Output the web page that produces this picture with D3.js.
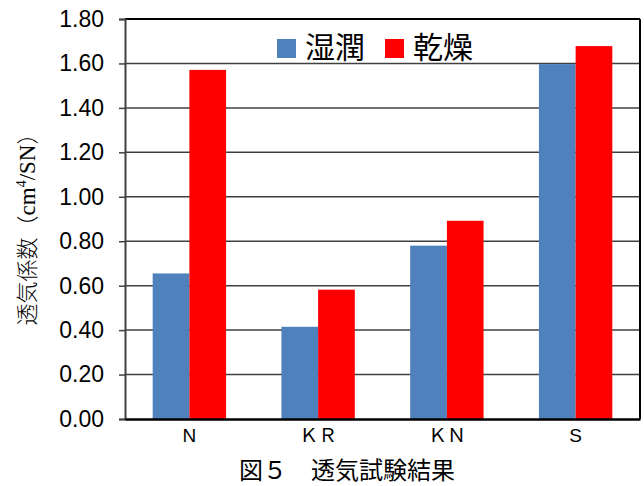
<!DOCTYPE html>
<html>
<head>
<meta charset="utf-8">
<script src="https://cdn.jsdelivr.net/npm/d3@7"></script>
<style>
  body { margin: 0; background: #fff; }
  text { fill: #000; }
</style>
</head>
<body>
<div id="chart"></div>
<script>
const categories = ["N", "ＫＲ", "ＫＮ", "S"]
const seriesNames = ["湿潤", "乾燥"]
const wet = [0.655, 0.415, 0.78, 1.597]
const dry = [1.571, 0.582, 0.892, 1.678]
const yTicks = [0, 0.2, 0.4, 0.6, 0.8, 1.0, 1.2, 1.4, 1.6, 1.8]
const colors = ["#4f81bd", "#ff0000"]

const W = 644, H = 486
const margin = { top: 19, right: 4, bottom: 67, left: 125 }
const width = W - margin.left - margin.right
const height = H - margin.top - margin.bottom

const svg = d3.select("#chart").append("svg")
  .attr("width", W)
  .attr("height", H)

const g = svg.append("g")
  .attr("transform", "translate(" + margin.left + "," + margin.top + ")")

const x = d3.scaleBand().domain(categories).range([0, width]).paddingInner(0.43).paddingOuter(0.215)
const xs = d3.scaleBand().domain(seriesNames).range([0, x.bandwidth()])
const y = d3.scaleLinear().domain([0, 1.8]).range([height, 0])

// gridlines
g.append("g")
  .selectAll("line")
  .data(yTicks.slice(1, -1))
  .join("line")
    .attr("x1", 0).attr("x2", width)
    .attr("y1", d => y(d)).attr("y2", d => y(d))
    .attr("stroke", "#404040")
    .attr("stroke-width", 1.5)

// bars
const rows = categories.map((c, i) => ({ c, vals: [wet[i], dry[i]] }))
g.append("g")
  .selectAll("g")
  .data(rows)
  .join("g")
    .attr("transform", d => "translate(" + x(d.c) + ",0)")
  .selectAll("rect")
  .data(d => d.vals.map((v, j) => ({ v, s: seriesNames[j], j })))
  .join("rect")
    .attr("x", d => xs(d.s))
    .attr("width", xs.bandwidth())
    .attr("y", d => y(d.v))
    .attr("height", d => height - y(d.v))
    .attr("fill", d => colors[d.j])

// frame: top and right black
g.append("line").attr("x1", 0).attr("x2", width).attr("y1", 0).attr("y2", 0)
  .attr("stroke", "#000").attr("stroke-width", 2)
g.append("line").attr("x1", width).attr("x2", width).attr("y1", 0).attr("y2", height)
  .attr("stroke", "#000").attr("stroke-width", 2)

// y axis
const yAxis = g.append("g")
  .call(d3.axisLeft(y).tickValues(yTicks).tickFormat(d3.format(".2f")).tickSize(6).tickPadding(15))
yAxis.select(".domain").attr("stroke", "#404040").attr("stroke-width", 2)
yAxis.selectAll(".tick line").attr("stroke", "#404040").attr("stroke-width", 1.5)
yAxis.selectAll("text")
  .attr("font-family", "'Liberation Sans', Arial, sans-serif")
  .attr("font-size", 23)
  .attr("fill", "#000")

// x axis
const xAxis = g.append("g")
  .attr("transform", "translate(0," + height + ")")
  .call(d3.axisBottom(x).tickSize(0).tickPadding(10))
xAxis.select(".domain").attr("stroke", "#000").attr("stroke-width", 2.5)
xAxis.selectAll("text")
  .attr("font-family", "'Liberation Sans', 'Noto Sans CJK JP', sans-serif")
  .attr("font-size", 19)
  .attr("fill", "#000")

// legend
const legend = svg.append("g").attr("transform", "translate(277,39)")
const legX = [0, 108]
seriesNames.forEach((s, i) => {
  legend.append("rect").attr("x", legX[i]).attr("y", 0).attr("width", 19).attr("height", 19)
    .attr("fill", colors[i])
  legend.append("text").attr("x", legX[i] + 28).attr("y", 19)
    .attr("font-family", "'Noto Sans CJK JP', sans-serif")
    .attr("font-size", 30)
    .text(s)
})

// y title
svg.append("text")
  .attr("transform", "translate(35,224) rotate(-90)")
  .attr("text-anchor", "middle")
  .attr("font-family", "'Noto Sans CJK JP', serif")
  .attr("font-weight", 300)
  .attr("font-size", 22)
  .call(t => {
    t.append("tspan").text("透気係数（")
    t.append("tspan").attr("font-family", "'Liberation Serif', serif").attr("font-size", 23).text("cm")
    t.append("tspan").attr("font-family", "'Liberation Serif', serif").attr("font-size", 14).attr("dy", -9).text("4")
    t.append("tspan").attr("font-family", "'Liberation Serif', serif").attr("font-size", 23).attr("dy", 9).text("/SN")
    t.append("tspan").text("）")
  })

// caption
svg.append("text")
  .attr("x", 347)
  .attr("y", 479)
  .attr("text-anchor", "middle")
  .attr("font-family", "'Noto Sans CJK JP', sans-serif")
  .attr("font-size", 24)
  .text("図５　透気試験結果")
</script>
</body>
</html>
